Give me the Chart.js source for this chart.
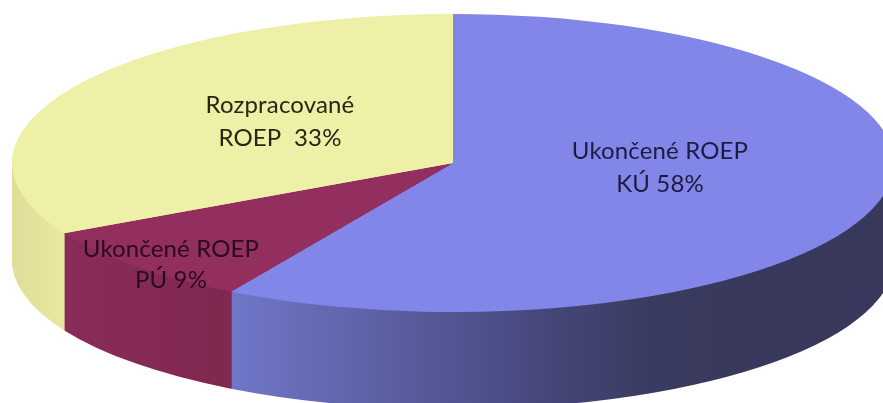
<!DOCTYPE html>
<html>
<head>
<meta charset="utf-8">
<style>
html,body{margin:0;padding:0;background:#fff;overflow:hidden}
#w{width:883px;height:403px;position:relative}
#c{filter:blur(0.4px)}
</style>
<script src="https://cdn.jsdelivr.net/npm/chart.js@4"></script>
</head>
<body>
<div id="w"><canvas id="c"></canvas></div>
<script>
const categories = ["Ukončené ROEP KÚ", "Ukončené ROEP PÚ", "Rozpracované ROEP"];
const values = [58.4, 8.8, 32.8];
const labelLines = [["Ukončené ROEP", "KÚ 58%"], ["Ukončené ROEP", "PÚ 9%"], ["Rozpracované", "ROEP  33%"]];
const topColors = ["#8286E8", "#922F5E", "#EEF0A8"];
const labelColors = ["#1c1c40", "#2a0a20", "#262614"];

const CENTER_X = 453, CENTER_Y = 163, RX = 441, RY = 149, DEPTH = 97;
const LABEL_ANCHORS = [[660, 151, 184], [171, 249, 280], [280, 105, 138]];

function view(arc) {
  const r = arc.outerRadius;
  return { sx: RX / r, sy: RY / r, cx: arc.x, cy: arc.y };
}
function sideFills(ctx, v) {
  const lx = X => v.cx + (X - CENTER_X) / v.sx;
  const blue = ctx.createLinearGradient(lx(228), 0, lx(760), 0);
  blue.addColorStop(0, "#7177CA");
  blue.addColorStop(0.3, "#5B5FA2");
  blue.addColorStop(0.6, "#45477A");
  blue.addColorStop(0.8, "#3A3B60");
  blue.addColorStop(1, "#38385C");
  const maroon = ctx.createLinearGradient(lx(63), 0, lx(228), 0);
  maroon.addColorStop(0, "#8A2B5A");
  maroon.addColorStop(1, "#7F2850");
  const yellow = ctx.createLinearGradient(lx(12), 0, lx(63), 0);
  yellow.addColorStop(0, "#DEDE98");
  yellow.addColorStop(1, "#E8E8A0");
  return [blue, maroon, yellow];
}
const tilt = {
  id: "tilt",
  beforeDatasetsDraw(chart) {
    const ctx = chart.ctx, arcs = chart.getDatasetMeta(0).data;
    const v = view(arcs[0]);
    ctx.save();
    ctx.translate(CENTER_X, CENTER_Y);
    ctx.scale(v.sx, v.sy);
    ctx.translate(-v.cx, -v.cy);
    const fills = sideFills(ctx, v);
    for (let d = DEPTH; d >= 1; d--) {
      ctx.save();
      ctx.translate(0, d / v.sy);
      arcs.forEach((arc, i) => {
        const saved = arc.options;
        const o = Object.create(saved);
        o.backgroundColor = fills[i];
        arc.options = o;
        arc.draw(ctx);
        arc.options = saved;
      });
      ctx.restore();
    }
  },
  afterDatasetsDraw(chart) {
    const ctx = chart.ctx;
    ctx.restore();
    ctx.save();
    ctx.font = '24px Lato, "Open Sans", sans-serif';
    ctx.letterSpacing = "0.15px";
    ctx.textAlign = "center";
    ctx.textBaseline = "middle";
    labelLines.forEach((lines, i) => {
      const a = LABEL_ANCHORS[i];
      ctx.fillStyle = labelColors[i];
      ctx.fillText(lines[0], a[0], a[1]);
      ctx.fillText(lines[1], a[0], a[2]);
    });
    ctx.restore();
  }
};
new Chart(document.getElementById("c"), {
  type: "pie",
  data: {
    labels: categories,
    datasets: [{ data: values, backgroundColor: topColors, borderWidth: 0, clip: false }]
  },
  options: {
    responsive: true,
    maintainAspectRatio: false,
    animation: false,
    plugins: { legend: { display: false }, tooltip: { enabled: false } }
  },
  plugins: [tilt]
});
</script>
</body>
</html>
